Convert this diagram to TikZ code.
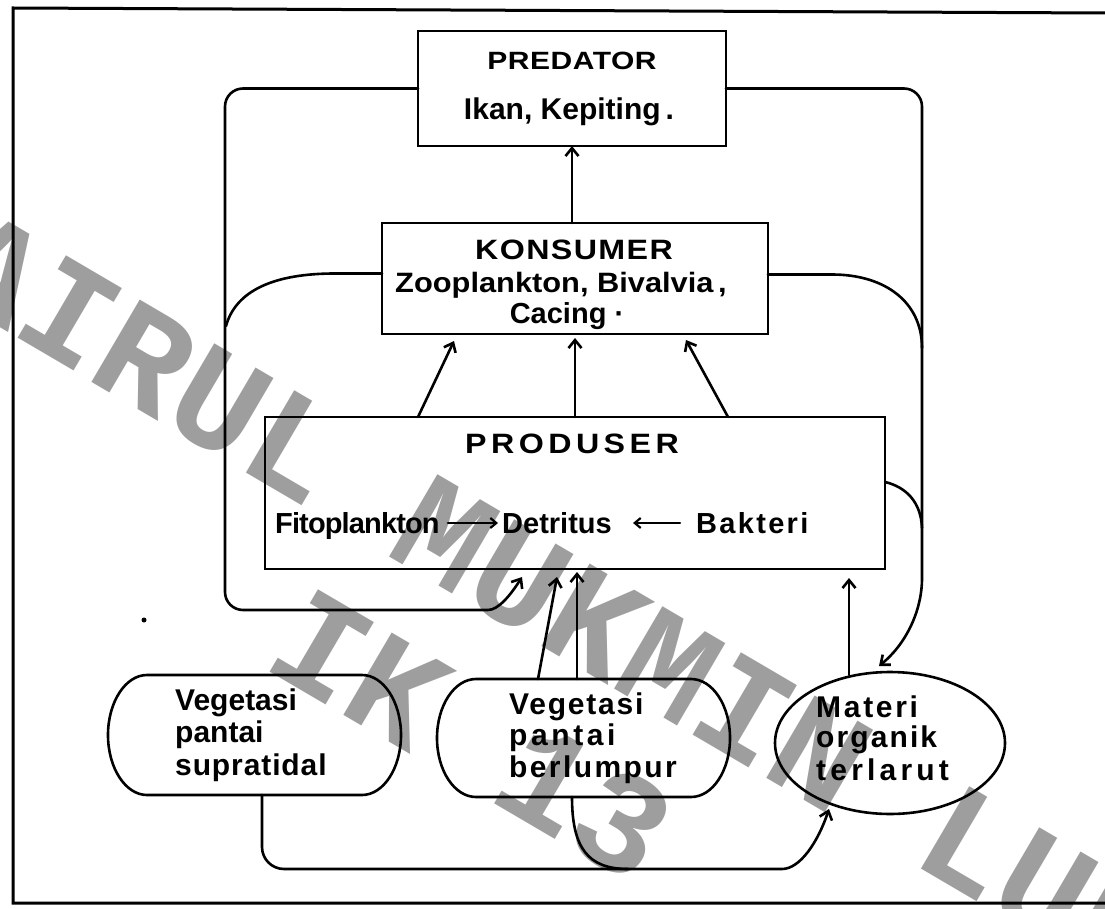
\documentclass[tikz,border=0pt]{standalone}
\usepackage{fontspec}
\setmainfont{Liberation Sans}
\newfontfamily\wmfont{Liberation Mono}
\usetikzlibrary{arrows.meta,shapes.geometric}
\tikzset{
  ln/.style={line width=2.6pt, line cap=round, line join=round},
  arr/.style={ln, -{Straight Barb[length=8pt,width=13pt]}},
  arrsmall/.style={line width=2.2pt, line cap=round, -{Straight Barb[length=6pt,width=10pt]}},
  frame/.style={line width=3pt},
  box/.style={draw, line width=2.6pt, inner sep=0pt, outer sep=0pt},
  ghost/.style={inner sep=0pt, outer sep=0pt},
  lbl/.style={anchor=base, inner sep=0pt, font=\bfseries\fontsize{29}{34}\selectfont},
  lblw/.style={anchor=base west, inner sep=0pt, font=\bfseries\fontsize{29}{34}\selectfont},
  ell/.style={anchor=base west, inner sep=0pt, font=\bfseries\fontsize{30}{34}\selectfont},
  wmark/.style={text=black!38, inner sep=0pt, rotate=-30.4,
    font=\wmfont\bfseries\fontsize{145}{160}\selectfont}
}
\begin{document}
\begin{tikzpicture}[x=1pt,y=-1pt]
\useasboundingbox (0,0) rectangle (1105,909);
\fill[white] (0,0) rectangle (1105,909);

% watermark (under the drawing)
\begin{scope}
  \clip (0,0) rectangle (1105,909);
  \node[wmark] (wm1) at (558,600) {KHAIRUL MUKMIN LUBIS};
  \node[wmark] (wm2) at (472,735) {IK 13};
\end{scope}

% frame
\draw[frame] (1105,13) -- (13,8) -- (13,903) -- (1105,903);

% boxes
\node[box, minimum width=308pt, minimum height=115pt] (pred) at (572,88.5) {};
\node[box, minimum width=386pt, minimum height=111pt] (kons) at (575,278.5) {};
\node[box, minimum width=620pt, minimum height=152pt] (prod) at (575,493) {};
\node[box, shape=ellipse, minimum width=230pt, minimum height=142pt] (mat) at (890,743) {};
\node[ghost, minimum width=293pt, minimum height=120pt] (supra) at (254.5,735) {};
\node[ghost, minimum width=293pt, minimum height=118pt] (berl) at (583.5,738) {};

% stadium outlines
\draw[ln] (147,675) -- (362,675) .. controls (383.5,675) and (401,702) .. (401,735)
  .. controls (401,768) and (383.5,795) .. (362,795) -- (147,795)
  .. controls (125.5,795) and (108,768) .. (108,735)
  .. controls (108,702) and (125.5,675) .. (147,675) -- cycle;
\draw[ln] (476,679) -- (691,679) .. controls (712.5,679) and (730,705.4) .. (730,738)
  .. controls (730,770.6) and (712.5,797) .. (691,797) -- (476,797)
  .. controls (454.5,797) and (437,770.6) .. (437,738)
  .. controls (437,705.4) and (454.5,679) .. (476,679) -- cycle;

% texts
\node[lbl, font=\bfseries\fontsize{25}{30}\selectfont\addfontfeature{FakeStretch=1.2,LetterSpace=2}] (tpred) at (572,70) {PREDATOR};
\node[lbl, font=\bfseries\fontsize{30}{34}\selectfont] (tikan) at (569,120) {Ikan, Kepiting\,.};
\node[lbl, font=\bfseries\fontsize{28}{32}\selectfont\addfontfeature{FakeStretch=1.15,LetterSpace=5}] (tkons) at (574,260) {KONSUMER};
\node[lbl, font=\bfseries\fontsize{28}{32}\selectfont\addfontfeature{FakeStretch=1.1}] (tzoo) at (561,292) {Zooplankton, Bivalvia\,,};
\node[lbl] (tcac) at (567,323) {Cacing ·};
\node[lbl, font=\bfseries\fontsize{28}{32}\selectfont\addfontfeature{FakeStretch=1.15,LetterSpace=16}] (tprod) at (572,453) {PRODUSER};
\node[lblw, font=\bfseries\fontsize{29}{34}\selectfont\addfontfeature{LetterSpace=-3}] (fito) at (275,533) {Fitoplankton};
\node[lblw] (detr) at (502,533) {Detritus};
\node[lblw, font=\bfseries\fontsize{29}{34}\selectfont\addfontfeature{LetterSpace=8}] (bakt) at (696,533) {Bakteri};

\node[ell] (s1) at (175,710) {Vegetasi};
\node[ell] (s2) at (175,742) {pantai};
\node[ell, font=\bfseries\fontsize{30}{34}\selectfont\addfontfeature{LetterSpace=3}] (s3) at (175,775) {supratidal};
\node[ell, font=\bfseries\fontsize{30}{34}\selectfont\addfontfeature{LetterSpace=6}] (b1) at (509,714) {Vegetasi};
\node[ell, font=\bfseries\fontsize{30}{34}\selectfont\addfontfeature{LetterSpace=12}] (b2) at (509,745) {pantai};
\node[ell, font=\bfseries\fontsize{30}{34}\selectfont\addfontfeature{LetterSpace=8}] (b3) at (509,777) {berlumpur};
\node[ell, font=\bfseries\fontsize{30}{34}\selectfont\addfontfeature{LetterSpace=9}] (m1) at (816,717) {Materi};
\node[ell, font=\bfseries\fontsize{30}{34}\selectfont\addfontfeature{LetterSpace=7}] (m2) at (816,747) {organik};
\node[ell, font=\bfseries\fontsize{30}{34}\selectfont\addfontfeature{LetterSpace=14}] (m3) at (816,780) {terlarut};

% arrows inside PRODUSER
\draw[arrsmall] ([xshift=8pt,yshift=10pt]fito.base east) -- ([xshift=-4pt,yshift=10pt]detr.base west);
\draw[arrsmall] ([xshift=-16pt,yshift=10pt]bakt.base west) -- ([xshift=131pt,yshift=10pt]detr.base west);

% KONSUMER -> PREDATOR
\draw[arr] (kons.north -| pred.south) -- (pred.south);
% PRODUSER -> KONSUMER
\draw[arr] ([xshift=-157pt]prod.north) -- ([xshift=-121pt,yshift=-7pt]kons.south);
\draw[arr] (prod.north) -- ([yshift=-4pt]kons.south);
\draw[arr] ([xshift=153pt]prod.north) -- ([xshift=111pt,yshift=-6pt]kons.south);

% left loop
\draw[arr, rounded corners=18pt] (pred.west) -- (225,88.5) -- (225,610) -- (470,610)
  .. controls (498,610) and (510,596) .. ([xshift=-53pt,yshift=-8pt]prod.south);
\draw[ln] ([yshift=5pt]kons.west) -- (335,273.5) .. controls (275,273.5) and (236,290) .. (226,326);

% right loop
\draw[arr, rounded corners=18pt] (pred.east) -- (922,88.5) -- (922,560)
  .. controls (922,612) and (905,645) .. ([xshift=-11pt,yshift=6pt]mat.north);
\draw[ln] ([yshift=4pt]kons.east) -- (832,274.5) .. controls (885,274.5) and (922,302) .. (922,348);
\draw[ln] ([yshift=11pt]prod.east) .. controls (906,487) and (921,502) .. (922,528);

% Materi -> PRODUSER
\draw[arr] ([xshift=-41pt,yshift=-3pt]mat.north) -- ([xshift=274pt,yshift=-9pt]prod.south);

% berlumpur -> PRODUSER
\draw[arr] ([xshift=-45.5pt]berl.north) -- ([xshift=-18pt,yshift=-8pt]prod.south);
\draw[arr] ([xshift=-6.5pt]berl.north) -- ([xshift=2pt,yshift=-3pt]prod.south);

% bottom loop
\draw[arr, rounded corners=22pt] ([xshift=7.5pt]supra.south) -- (262,869) -- (760,869)
  .. controls (800,869) and (818,842) .. ([xshift=-61pt,yshift=-66pt]mat.center);
\draw[ln] ([xshift=-11.5pt]berl.south) .. controls (572,848) and (588,869) .. (628,869);

% speck
\fill (144,620) circle[radius=2.5pt];
\end{tikzpicture}
\end{document}
